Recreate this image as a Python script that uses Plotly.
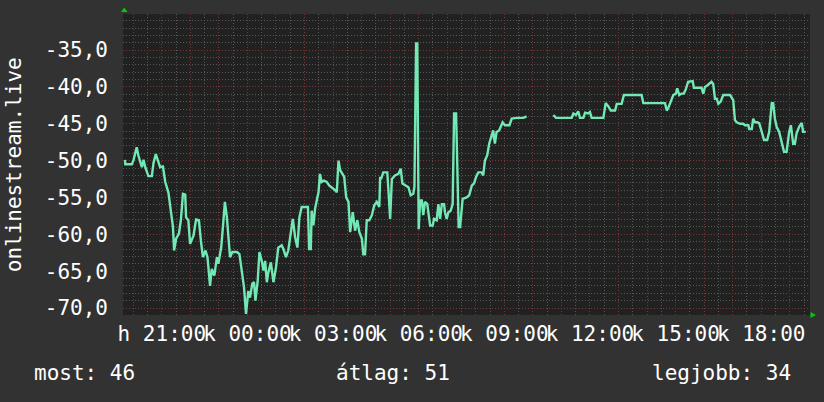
import plotly.graph_objects as go

# time in hours counted from Monday 00:00 ("h" = hétfő, "k" = kedd)
hours = [
    19.71, 19.72, 19.95, 19.98, 20.01, 20.12, 20.18, 20.30, 20.36, 20.42,
    20.53, 20.65, 20.71, 20.79, 20.88, 20.94, 21.04, 21.12, 21.23, 21.29,
    21.39, 21.43, 21.50, 21.60, 21.67, 21.74, 21.82, 21.85, 21.93, 21.99,
    22.11, 22.20, 22.30, 22.37, 22.44, 22.53, 22.60, 22.69, 22.75, 22.84,
    22.93, 22.98, 23.08, 23.16, 23.21, 23.28, 23.33, 23.39, 23.47, 23.63,
    23.72, 23.80, 23.88, 23.95, 24.03, 24.09, 24.17, 24.23, 24.28, 24.36,
    24.42, 24.50, 24.56, 24.62, 24.68, 24.73, 24.82, 24.91, 25.00, 25.08,
    25.20, 25.26, 25.35, 25.43, 25.49, 25.59, 25.67, 25.75, 25.82, 25.90,
    26.08, 26.12, 26.16, 26.22, 26.25, 26.31, 26.37, 26.43, 26.49, 26.54,
    26.60, 26.68, 26.78, 26.87, 26.95, 27.07, 27.13, 27.19, 27.25, 27.30,
    27.39, 27.46, 27.54, 27.60, 27.65, 27.69, 27.77, 27.85, 27.92, 28.01,
    28.06, 28.12, 28.18, 28.27, 28.36, 28.44, 28.53, 28.62, 28.65, 28.68,
    28.76, 28.86, 28.90, 28.94, 29.00, 29.06, 29.17, 29.29, 29.37, 29.43,
    29.56, 29.64, 29.72, 29.81, 29.85, 29.91, 29.95, 30.00, 30.05, 30.11,
    30.16, 30.22, 30.30, 30.40, 30.49, 30.54, 30.63, 30.69, 30.75, 30.81,
    30.89, 30.92, 30.98, 31.04, 31.12, 31.19, 31.24, 31.31, 31.35, 31.40,
    31.45, 31.48, 31.54, 31.68, 31.77, 31.86, 31.94, 32.01, 32.09, 32.21,
    32.26, 32.32, 32.40, 32.47, 32.56, 32.61, 32.67, 32.73, 32.82, 32.88,
    32.94, 33.02, 33.18, 33.26, 33.43, 33.67, 33.78, 34.20, 34.72, 34.81,
    35.36, 35.42, 35.51, 35.59, 35.65, 35.77, 35.83, 35.94, 36.00, 36.06,
    36.47, 36.55, 36.64, 36.73, 36.88, 36.94, 37.11, 37.19, 37.81, 37.87,
    38.63, 38.69, 38.74, 38.83, 38.92, 39.01, 39.06, 39.13, 39.21, 39.29,
    39.36, 39.44, 39.60, 39.64, 39.91, 39.97, 40.03, 40.11, 40.18, 40.26,
    40.32, 40.38, 40.44, 40.50, 40.58, 40.67, 40.91, 40.97, 41.02, 41.08,
    41.14, 41.26, 41.37, 41.43, 41.55, 41.58, 41.67, 41.72, 41.78, 41.86,
    41.93, 42.02, 42.10, 42.21, 42.28, 42.37, 42.42, 42.48, 42.54, 42.63,
    42.72, 42.80, 42.89, 42.98, 43.04, 43.12, 43.18, 43.24, 43.33, 43.42,
    43.47, 43.56,
]
values = [
    -49.9, -50.5, -50.5, -50.2, -49.9, -48.2, -49.3, -50.9, -49.9, -50.9,
    -52.1, -52.1, -50.3, -49.1, -50.2, -50.9, -50.8, -52.9, -54.3, -56.2,
    -59.0, -62.2, -60.6, -59.9, -58.0, -54.5, -54.6, -57.7, -58.1, -61.3,
    -60.2, -58.0, -58.1, -60.9, -63.1, -62.2, -63.1, -67.0, -64.7, -65.6,
    -63.1, -64.0, -61.8, -58.1, -55.6, -57.7, -60.4, -63.1, -62.4, -62.4,
    -62.7, -65.2, -67.2, -70.8, -67.7, -68.6, -66.7, -66.5, -69.0, -66.3,
    -62.4, -63.6, -64.9, -63.6, -66.5, -65.2, -63.8, -66.5, -64.5, -61.8,
    -61.5, -62.0, -63.1, -62.2, -60.6, -57.9, -60.4, -61.8, -57.7, -56.3,
    -56.3, -56.3, -62.0, -62.0, -56.8, -58.8, -56.5, -55.4, -54.3, -51.8,
    -52.9, -52.7, -52.9, -53.4, -53.6, -54.0, -54.3, -50.0, -51.3, -51.6,
    -52.2, -55.0, -55.6, -59.7, -58.1, -57.0, -59.5, -58.1, -59.7, -60.6,
    -62.7, -62.7, -58.1, -58.1, -57.4, -56.1, -55.6, -56.3, -52.2, -52.5,
    -51.6, -51.6, -51.6, -54.0, -57.9, -52.5, -52.0, -51.8, -51.1, -53.1,
    -53.4, -53.6, -54.7, -54.5, -53.6, -34.1, -34.1, -59.3, -55.4, -55.4,
    -57.4, -55.6, -55.9, -58.8, -58.8, -57.9, -58.1, -55.9, -57.9, -55.9,
    -55.9, -57.0, -57.9, -57.0, -56.8, -55.9, -43.6, -43.6, -50.2, -59.0,
    -59.0, -57.9, -55.2, -55.0, -54.7, -53.4, -53.1, -52.2, -51.6, -51.6,
    -52.0, -50.0, -49.3, -47.7, -46.3, -45.9, -47.7, -46.1, -45.9, -45.2,
    -44.8, -45.2, -45.2, -44.3, -44.2, -44.2, -44.0, None, -43.8, -44.2,
    -44.2, -43.6, -43.8, -43.3, -44.2, -44.2, -43.5, -43.6, -43.4, -44.2,
    -44.2, -42.2, -42.6, -43.2, -43.2, -42.3, -42.3, -41.1, -41.1, -42.2,
    -42.2, -43.2, -42.9, -42.0, -41.1, -40.9, -40.2, -41.1, -40.9, -40.9,
    -40.3, -39.3, -39.2, -40.1, -40.1, -40.9, -40.0, -39.8, -39.6, -39.3,
    -39.6, -41.6, -41.6, -42.3, -42.0, -41.1, -41.1, -41.6, -41.8, -44.5,
    -44.8, -45.0, -45.0, -45.2, -45.2, -45.7, -45.7, -44.3, -44.8, -44.8,
    -44.9, -46.1, -47.2, -47.2, -46.1, -42.2, -42.2, -44.3, -45.4, -46.1,
    -47.5, -48.8, -48.8, -46.1, -45.2, -47.7, -47.7, -46.3, -45.4, -44.9,
    -46.1, -46.1,
]

x_grid_hours = list(range(20, 44))
x_label_hours = [21, 24, 27, 30, 33, 36, 39, 42]
x_label_days = ["h", "k", "k", "k", "k", "k", "k", "k"]
y_ticks = [-70, -65, -60, -55, -50, -45, -40, -35]

stat_labels = ["most", "átlag", "legjobb"]
stat_values = [46, 51, 34]
y_title = "onlinestream.live"

BG = "#323232"
PLOT_BG = "#212121"
TXT = "#FFFFFF"
FONT = "DejaVu Sans Mono"
MAJOR = "#7a3535"
MINOR = "#585858"

day_of = dict(zip(x_label_hours, x_label_days))
x_text = [f"{day_of[h]} {h % 24:02d}:00" if h in day_of else "" for h in x_grid_hours]
y_text = [f"{v:.1f}".replace(".", ",") for v in y_ticks]

fig = go.Figure()
fig.add_trace(go.Scatter(x=hours, y=values, mode="lines", connectgaps=False,
                         line=dict(color="#72E8B4", width=2.4), hoverinfo="skip"))

fig.update_layout(
    width=824, height=402,
    margin=dict(l=123, r=14, t=14, b=87),
    paper_bgcolor=BG, plot_bgcolor=PLOT_BG,
    showlegend=False,
    font=dict(family=FONT, size=21, color=TXT),
)
fig.update_xaxes(
    range=[19.64, 43.71], tickvals=x_grid_hours, ticktext=x_text, tickangle=0,
    showgrid=True, gridcolor=MAJOR, griddash="1px,2px", gridwidth=1,
    minor=dict(dtick=0.5, tick0=0, showgrid=True, gridcolor=MINOR, griddash="1px,2px"),
    zeroline=False, showline=False, ticks="", ticklabelstandoff=4, automargin=False,
)
fig.update_yaxes(
    range=[-70.95, -30.1], tickvals=y_ticks, ticktext=y_text,
    showgrid=True, gridcolor=MAJOR, griddash="1px,2px", gridwidth=1,
    minor=dict(dtick=1, tick0=0, showgrid=True, gridcolor=MINOR, griddash="1px,2px"),
    zeroline=False, showline=False, ticks="", ticklabelstandoff=14, automargin=False,
)

# rotated axis title
fig.add_annotation(text=y_title, xref="paper", yref="paper", x=-0.159, y=0.5,
                   xanchor="center", yanchor="middle", textangle=-90,
                   showarrow=False, font=dict(size=21, color=TXT, family=FONT))

# summary line under the chart
for lbl, val, px in zip(stat_labels, stat_values, [32, 334, 650]):
    fig.add_annotation(text=f"{lbl}: {val}", xref="paper", yref="paper",
                       x=(px - 123) / 687, y=(315 - 373) / 301, xanchor="left", yanchor="middle",
                       showarrow=False, font=dict(size=21, color=TXT, family=FONT))

# green axis arrowheads
fig.add_shape(type="path", xref="paper", yref="paper", line=dict(width=0), fillcolor="#00CC00",
              path="M -0.0029 1.0066 L 0.0066 1.0066 L 0.0018 1.0216 Z")
fig.add_shape(type="path", xref="paper", yref="paper", line=dict(width=0), fillcolor="#00CC00",
              path="M 1.0007 0.0100 L 1.0007 -0.0100 L 1.0087 0 Z")

fig.write_html("out.html", config={"displayModeBar": False},
               post_script="document.body.style.margin='0';")
